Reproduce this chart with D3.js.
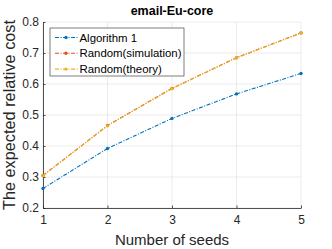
<!DOCTYPE html>
<html>
<head>
<meta charset="utf-8">
<script src="https://cdn.jsdelivr.net/npm/d3@7"></script>
<style>
  body { margin: 0; background: #fff; }
  svg { display: block; font-family: "Liberation Sans", Arial, sans-serif; }
</style>
</head>
<body>
<svg width="332" height="249"></svg>
<script>
// data
var seeds = [1, 2, 3, 4, 5];
var algorithm1 = [0.263, 0.392, 0.489, 0.568, 0.634];
var randomSim = [0.305, 0.466, 0.586, 0.685, 0.765];
var randomTheory = [0.304, 0.465, 0.585, 0.684, 0.764];
var yTicks = [0.2, 0.3, 0.4, 0.5, 0.6, 0.7, 0.8];
var seriesNames = ["Algorithm 1", "Random(simulation)", "Random(theory)"];
var seriesColors = ["#0072BD", "#D95319", "#EDB120"];

var svg = d3.select("svg"),
    margin = {top: 22, right: 31, bottom: 41, left: 43},
    width = 332 - margin.left - margin.right,
    height = 249 - margin.top - margin.bottom;

var x = d3.scaleLinear().domain([1, 5]).range([0, width]);
var y = d3.scaleLinear().domain([0.2, 0.8]).range([height, 0]);

var g = svg.append("g")
    .attr("transform", "translate(" + margin.left + "," + margin.top + ")");

// grid
g.append("g").selectAll("line").data(seeds).enter().append("line")
    .attr("x1", function(d) { return x(d); }).attr("x2", function(d) { return x(d); })
    .attr("y1", 0).attr("y2", height)
    .attr("stroke", "#e6e6e6").attr("stroke-width", 0.8);
g.append("g").selectAll("line").data(yTicks).enter().append("line")
    .attr("y1", function(d) { return y(d); }).attr("y2", function(d) { return y(d); })
    .attr("x1", 0).attr("x2", width)
    .attr("stroke", "#e6e6e6").attr("stroke-width", 0.8);

// axes
var xAxis = g.append("g")
    .attr("transform", "translate(0," + height + ")")
    .call(d3.axisBottom(x).tickValues(seeds).tickFormat(d3.format("d")).tickSizeInner(-2.5).tickSizeOuter(0).tickPadding(7));
var yAxis = g.append("g")
    .call(d3.axisLeft(y).tickValues(yTicks).tickFormat(d3.format(".1f")).tickSizeInner(-2.5).tickSizeOuter(0).tickPadding(4));

[xAxis, yAxis].forEach(function(a) {
    a.select(".domain").attr("stroke", "#262626").attr("stroke-width", 0.8);
    a.selectAll(".tick line").attr("stroke", "#262626").attr("stroke-width", 0.8);
    a.selectAll(".tick text").attr("fill", "#262626").style("font-size", "12px")
     .style("font-family", "'Liberation Sans', Arial, sans-serif");
});

// series
var series = [algorithm1, randomSim, randomTheory];
var line = d3.line()
    .x(function(d, i) { return x(seeds[i]); })
    .y(function(d) { return y(d); });

series.forEach(function(s, k) {
    g.append("path")
        .datum(s)
        .attr("d", line)
        .attr("fill", "none")
        .attr("stroke", seriesColors[k])
        .attr("stroke-width", 1.1)
        .attr("stroke-dasharray", "4,1.5,1,1.5");
    g.selectAll(".pt" + k).data(s).enter().append("circle")
        .attr("class", "pt" + k)
        .attr("cx", function(d, i) { return x(seeds[i]); })
        .attr("cy", function(d) { return y(d); })
        .attr("r", 1.7)
        .attr("fill", seriesColors[k]);
});

// legend
var legend = svg.append("g").attr("transform", "translate(50,28)");
legend.append("rect")
    .attr("width", 134).attr("height", 48)
    .attr("fill", "#fff").attr("stroke", "#262626").attr("stroke-width", 0.6);
seriesNames.forEach(function(name, k) {
    var ly = 9.5 + k * 15.8;
    legend.append("line")
        .attr("x1", 5).attr("x2", 28).attr("y1", ly).attr("y2", ly)
        .attr("stroke", seriesColors[k]).attr("stroke-width", 1.1)
        .attr("stroke-dasharray", "4,1.5,1,1.5");
    legend.append("circle")
        .attr("cx", 16).attr("cy", ly).attr("r", 1.7)
        .attr("fill", seriesColors[k]);
    legend.append("text")
        .attr("x", 29.5).attr("y", ly + 4)
        .attr("fill", "#000")
        .style("font-size", "11.4px")
        .text(name);
});

// title and labels
svg.append("text")
    .attr("x", margin.left + width / 2).attr("y", 15)
    .attr("text-anchor", "middle")
    .style("font-size", "12.5px").style("font-weight", "bold")
    .text("email-Eu-core");

svg.append("text")
    .attr("x", margin.left + width / 2).attr("y", 245)
    .attr("text-anchor", "middle")
    .attr("fill", "#262626")
    .style("font-size", "15px")
    .text("Number of seeds");

svg.append("text")
    .attr("transform", "translate(15," + (margin.top + height / 2) + ") rotate(-90)")
    .attr("text-anchor", "middle")
    .attr("fill", "#262626")
    .style("font-size", "16.3px")
    .text("The expected relative cost");
</script>
</body>
</html>
